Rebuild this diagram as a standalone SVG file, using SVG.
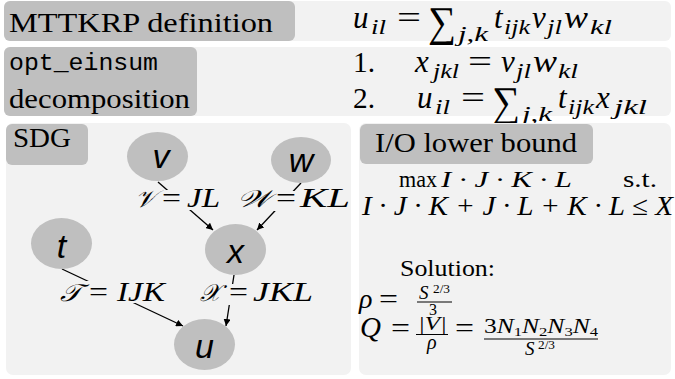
<svg xmlns="http://www.w3.org/2000/svg" width="675" height="379" viewBox="0 0 675 379">
<defs>
<style>
.panel{fill:#f2f2f2}
.lbl{fill:#bfbfbf}
.node{fill:#bfbfbf}
.rm{font-family:"Liberation Serif","DejaVu Serif",serif;fill:#000}
.it{font-family:"Liberation Serif","DejaVu Serif",serif;font-style:italic;fill:#000}
.tt{font-family:"Liberation Mono","DejaVu Sans Mono",monospace;fill:#000}
.nt{font-family:"Liberation Sans","Arial",sans-serif;font-style:italic;font-size:34px;text-anchor:middle;fill:#000}
.edge{stroke:#000;stroke-width:1.3;fill:none}
.cov{fill:#f2f2f2}
.bar{stroke:#000;stroke-width:1}
</style>
<marker id="ah" viewBox="0 0 10 10" refX="10" refY="5" markerWidth="7" markerHeight="7" markerUnits="userSpaceOnUse" orient="auto">
<path d="M0,0 L10,5 L0,10 z" fill="#000"/>
</marker>
</defs>
<rect width="675" height="379" fill="#fff"/>

<g id="row-definition">
<rect class="panel" x="4" y="1" width="667" height="40" rx="6"/>
<rect class="lbl" x="4" y="1" width="291" height="40" rx="6"/>
<text class="rm" x="9" y="32" font-size="28" textLength="264" lengthAdjust="spacingAndGlyphs">MTTKRP definition</text>
<text class="it" x="353" y="28" font-size="31">u</text>
<text class="it" x="371" y="34" font-size="20" textLength="15" lengthAdjust="spacingAndGlyphs">il</text>
<text class="rm" x="397" y="28" font-size="31" textLength="24" lengthAdjust="spacingAndGlyphs">=</text>
<text class="rm" x="428" y="36" font-size="42" textLength="28" lengthAdjust="spacingAndGlyphs">∑</text>
<text class="it" x="458" y="41" font-size="20" textLength="30" lengthAdjust="spacingAndGlyphs">j,k</text>
<text class="it" x="494" y="28" font-size="31">t</text>
<text class="it" x="504" y="34" font-size="20" textLength="26" lengthAdjust="spacingAndGlyphs">ijk</text>
<text class="it" x="532" y="28" font-size="31">v</text>
<text class="it" x="547" y="34" font-size="20" textLength="15" lengthAdjust="spacingAndGlyphs">jl</text>
<text class="it" x="564" y="28" font-size="31" textLength="24" lengthAdjust="spacingAndGlyphs">w</text>
<text class="it" x="590" y="34" font-size="20" textLength="22" lengthAdjust="spacingAndGlyphs">kl</text>
</g>

<g id="row-decomposition">
<rect class="panel" x="4" y="47" width="667" height="69" rx="6"/>
<rect class="lbl" x="4" y="47" width="193" height="69" rx="6"/>
<text class="tt" x="9" y="70" font-size="24" textLength="149" lengthAdjust="spacingAndGlyphs">opt_einsum</text>
<text class="rm" x="9" y="108" font-size="28" textLength="181" lengthAdjust="spacingAndGlyphs">decomposition</text>
<text class="rm" x="353" y="72" font-size="30" textLength="22" lengthAdjust="spacingAndGlyphs">1.</text>
<text class="it" x="415" y="72" font-size="31">x</text>
<text class="it" x="433" y="78" font-size="20" textLength="26" lengthAdjust="spacingAndGlyphs">jkl</text>
<text class="rm" x="468" y="72" font-size="31" textLength="24" lengthAdjust="spacingAndGlyphs">=</text>
<text class="it" x="501" y="72" font-size="31">v</text>
<text class="it" x="516" y="78" font-size="20" textLength="15" lengthAdjust="spacingAndGlyphs">jl</text>
<text class="it" x="533" y="72" font-size="31" textLength="24" lengthAdjust="spacingAndGlyphs">w</text>
<text class="it" x="558" y="78" font-size="20" textLength="20" lengthAdjust="spacingAndGlyphs">kl</text>
<text class="rm" x="353" y="108" font-size="30" textLength="22" lengthAdjust="spacingAndGlyphs">2.</text>
<text class="it" x="417" y="108" font-size="31">u</text>
<text class="it" x="435" y="114" font-size="20" textLength="15" lengthAdjust="spacingAndGlyphs">il</text>
<text class="rm" x="461" y="108" font-size="31" textLength="24" lengthAdjust="spacingAndGlyphs">=</text>
<text class="rm" x="492" y="116" font-size="42" textLength="28" lengthAdjust="spacingAndGlyphs">∑</text>
<text class="it" x="522" y="121" font-size="20" textLength="30" lengthAdjust="spacingAndGlyphs">j,k</text>
<text class="it" x="558" y="108" font-size="31">t</text>
<text class="it" x="568" y="114" font-size="20" textLength="26" lengthAdjust="spacingAndGlyphs">ijk</text>
<text class="it" x="596" y="108" font-size="31">x</text>
<text class="it" x="614" y="114" font-size="20" textLength="33" lengthAdjust="spacingAndGlyphs">jkl</text>
</g>

<g id="sdg-panel">
<rect class="panel" x="6" y="123" width="345" height="252" rx="7"/>
<rect class="lbl" x="6" y="124" width="82" height="41" rx="6"/>
<text class="rm" x="13" y="147" font-size="28" textLength="58" lengthAdjust="spacingAndGlyphs">SDG</text>
</g>

<g id="connectors">
<line class="edge" x1="158" y1="182" x2="213" y2="230" marker-end="url(#ah)"/>
<line class="edge" x1="301" y1="183" x2="257" y2="230" marker-end="url(#ah)"/>
<line class="edge" x1="62" y1="269" x2="183" y2="326" marker-end="url(#ah)"/>
<line class="edge" x1="234" y1="275" x2="226" y2="326" marker-end="url(#ah)"/>
<rect class="cov" x="133" y="190" width="90" height="20"/>
<rect class="cov" x="235" y="191" width="115" height="20"/>
<rect class="cov" x="58" y="281" width="110" height="22"/>
<rect class="cov" x="198" y="284" width="117" height="21"/>
<text class="it" x="135" y="207" font-size="24" textLength="21" lengthAdjust="spacingAndGlyphs">𝒱</text>
<text class="rm" x="162" y="207" font-size="27" textLength="19" lengthAdjust="spacingAndGlyphs">=</text>
<text class="it" x="187" y="207" font-size="27" textLength="33" lengthAdjust="spacingAndGlyphs">JL</text>
<text class="it" x="237" y="207" font-size="24" textLength="33" lengthAdjust="spacingAndGlyphs">𝒲</text>
<text class="rm" x="276" y="207" font-size="27" textLength="20" lengthAdjust="spacingAndGlyphs">=</text>
<text class="it" x="300" y="207" font-size="27" textLength="50" lengthAdjust="spacingAndGlyphs">KL</text>
<text class="it" x="60" y="301" font-size="24" textLength="21" lengthAdjust="spacingAndGlyphs">𝒯</text>
<text class="rm" x="89" y="301" font-size="27" textLength="19" lengthAdjust="spacingAndGlyphs">=</text>
<text class="it" x="117" y="301" font-size="27" textLength="48" lengthAdjust="spacingAndGlyphs">IJK</text>
<text class="it" x="200" y="301" font-size="24" textLength="21" lengthAdjust="spacingAndGlyphs">𝒳</text>
<text class="rm" x="229" y="301" font-size="27" textLength="19" lengthAdjust="spacingAndGlyphs">=</text>
<text class="it" x="253" y="301" font-size="27" textLength="60" lengthAdjust="spacingAndGlyphs">JKL</text>
</g>

<g id="node-v"><ellipse class="node" cx="157.5" cy="156.5" rx="30.5" ry="24.5"/><text class="nt" x="161" y="168">v</text></g>
<g id="node-w"><ellipse class="node" cx="301" cy="160" rx="30" ry="23"/><text class="nt" x="301" y="172">w</text></g>
<g id="node-t"><ellipse class="node" cx="61.5" cy="243.5" rx="30.5" ry="25.5"/><text class="nt" x="61.5" y="258">t</text></g>
<g id="node-x"><ellipse class="node" cx="235.5" cy="249.5" rx="30.5" ry="25.5"/><text class="nt" x="235.5" y="263">x</text></g>
<g id="node-u"><ellipse class="node" cx="204.5" cy="344.5" rx="30.5" ry="25.5"/><text class="nt" x="204.5" y="358">u</text></g>

<g id="io-panel">
<rect class="panel" x="359" y="123" width="312" height="252" rx="7"/>
<rect class="lbl" x="360" y="124" width="233" height="40" rx="6"/>
<text class="rm" x="375" y="152" font-size="28" textLength="202" lengthAdjust="spacingAndGlyphs">I/O lower bound</text>
<text class="rm" x="399" y="187" font-size="23" textLength="38" lengthAdjust="spacingAndGlyphs">max</text>
<text class="it" x="441" y="187" font-size="23" textLength="131" lengthAdjust="spacingAndGlyphs">I · J · K · L</text>
<text class="rm" x="623" y="187" font-size="23" textLength="34" lengthAdjust="spacingAndGlyphs">s.t.</text>
<text class="it" x="362" y="215" font-size="27" textLength="311" lengthAdjust="spacingAndGlyphs">I · J · K + J · L + K · L ≤ X</text>
<text class="rm" x="400" y="276" font-size="24" textLength="95" lengthAdjust="spacingAndGlyphs">Solution:</text>
<text class="it" x="359" y="308" font-size="28">ρ</text>
<text class="rm" x="379" y="308" font-size="28" textLength="19" lengthAdjust="spacingAndGlyphs">=</text>
<text class="it" x="419" y="299" font-size="19">S</text>
<text class="rm" x="433" y="293" font-size="13" textLength="17" lengthAdjust="spacingAndGlyphs">2/3</text>
<line class="bar" x1="417" y1="302" x2="452" y2="302"/>
<text class="rm" x="429" y="315" font-size="16">3</text>
<text class="it" x="360" y="337" font-size="29">Q</text>
<text class="rm" x="391" y="337" font-size="28" textLength="19" lengthAdjust="spacingAndGlyphs">=</text>
<text class="it" x="418" y="330" font-size="19" textLength="29" lengthAdjust="spacingAndGlyphs">|V|</text>
<line class="bar" x1="416" y1="334.5" x2="448" y2="334.5"/>
<text class="it" x="427" y="349" font-size="20">ρ</text>
<text class="rm" x="455" y="337" font-size="28" textLength="19" lengthAdjust="spacingAndGlyphs">=</text>
<text class="it" font-size="20" textLength="114" lengthAdjust="spacingAndGlyphs" x="484" y="333"><tspan font-style="normal">3</tspan><tspan>N</tspan><tspan font-size="13" font-style="normal" dy="3">1</tspan><tspan dy="-3">N</tspan><tspan font-size="13" font-style="normal" dy="3">2</tspan><tspan dy="-3">N</tspan><tspan font-size="13" font-style="normal" dy="3">3</tspan><tspan dy="-3">N</tspan><tspan font-size="13" font-style="normal" dy="3">4</tspan></text>
<line class="bar" x1="484" y1="339" x2="598" y2="339"/>
<text class="it" x="525" y="355" font-size="19">S</text>
<text class="rm" x="538" y="349" font-size="12" textLength="17" lengthAdjust="spacingAndGlyphs">2/3</text>
</g>
</svg>
